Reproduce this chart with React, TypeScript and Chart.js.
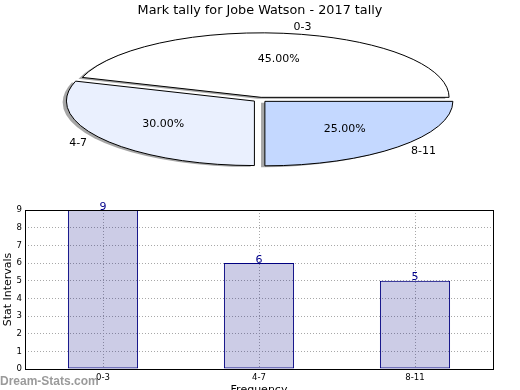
import React, { useEffect, useRef } from 'react';
import { Chart, registerables } from 'chart.js';

Chart.register(...registerables);

// ---- data ----
const TITLE = 'Mark tally for Jobe Watson - 2017 tally';
const categories = ['0-3', '4-7', '8-11'];
const counts = [9, 6, 5];
const pieColors = ['#ffffff', '#eaf0fe', '#c4d8ff'];
// Chart.js draws clockwise; the reference goes counter-clockwise from 3 o'clock
const pieOrder = [0, 2, 1];
const yMax = 9;
const xTitle = 'Frequency';
const yTitle = 'Stat Intervals';
const watermark = 'Dream-Stats.com';

const FONT = "'DejaVu Sans', sans-serif";
const TICK_FONT = "'DejaVu Sans Condensed', 'Liberation Sans Narrow', 'DejaVu Sans', sans-serif";

// ---- pie geometry (visual styling) ----
const PIE_RADIUS = 188;
const SQUASH = 64.5 / 188;
const EXPLODE = 6.9;
const SHADOW_DX = -3.8;
const SHADOW_DY = 1.3;

function wedgePath(ctx: CanvasRenderingContext2D, el: any, sx: number, sy: number) {
  const mid = (el.startAngle + el.endAngle) / 2;
  ctx.save();
  ctx.translate(sx, sy);
  ctx.translate(el.x, el.y);
  ctx.scale(1, SQUASH);
  ctx.translate(-el.x, -el.y);
  ctx.translate(Math.cos(mid) * EXPLODE, Math.sin(mid) * EXPLODE);
  ctx.beginPath();
  ctx.moveTo(el.x, el.y);
  ctx.arc(el.x, el.y, el.outerRadius, el.startAngle, el.endAngle);
  ctx.closePath();
  ctx.restore();
}

const ellipsePiePlugin = {
  id: 'ellipsePie',
  beforeDatasetsDraw(chart: any) {
    const ctx: CanvasRenderingContext2D = chart.ctx;
    const meta = chart.getDatasetMeta(0);
    const els = meta.data as any[];
    // shadows
    els.forEach((el: any) => {
      wedgePath(ctx, el, SHADOW_DX, SHADOW_DY);
      ctx.save();
      ctx.fillStyle = 'rgba(77,77,77,0.5)';
      ctx.fill();
      ctx.restore();
    });
    // fills (drawn by the library's arc elements)
    els.forEach((el: any) => {
      const mid = (el.startAngle + el.endAngle) / 2;
      ctx.save();
      ctx.translate(el.x, el.y);
      ctx.scale(1, SQUASH);
      ctx.translate(-el.x, -el.y);
      ctx.translate(Math.cos(mid) * EXPLODE, Math.sin(mid) * EXPLODE);
      el.draw(ctx);
      ctx.restore();
    });
    // outlines
    els.forEach((el: any) => {
      wedgePath(ctx, el, 0, 0);
      ctx.save();
      ctx.lineWidth = 1;
      ctx.strokeStyle = '#000';
      ctx.lineJoin = 'miter';
      ctx.stroke();
      ctx.restore();
    });
    // labels
    const total = counts.reduce((a, b) => a + b, 0);
    ctx.save();
    ctx.fillStyle = '#000';
    ctx.font = `11px ${FONT}`;
    ctx.textBaseline = 'middle';
    els.forEach((el: any, i: number) => {
      const idx = pieOrder[i];
      const mid = (el.startAngle + el.endAngle) / 2;
      const c = Math.cos(mid);
      const s = Math.sin(mid);
      const cx = el.x + c * EXPLODE;
      const cy = el.y + s * EXPLODE * SQUASH;
      const R = el.outerRadius;
      ctx.textAlign = c > 0 ? 'left' : 'right';
      ctx.fillText(categories[idx], cx + c * 1.1 * R, cy + s * 1.1 * R * SQUASH);
      ctx.textAlign = 'center';
      const pct = ((counts[idx] / total) * 100).toFixed(2) + '%';
      ctx.fillText(pct, cx + c * 0.6 * R, cy + s * 0.6 * R * SQUASH);
    });
    ctx.restore();
    return false;
  },
};

const boxPlugin = {
  id: 'boxAndLabels',
  afterDatasetsDraw(chart: any) {
    const ctx: CanvasRenderingContext2D = chart.ctx;
    const a = chart.chartArea;
    ctx.save();
    ctx.strokeStyle = '#000';
    ctx.lineWidth = 1;
    const l = Math.floor(a.left) + 0.5;
    const t = Math.floor(a.top) + 0.5;
    const r = Math.floor(a.right) + 0.5;
    const b = Math.floor(a.bottom) + 0.5;
    ctx.strokeRect(l, t, r - l, b - t);
    // value labels
    const meta = chart.getDatasetMeta(0);
    ctx.fillStyle = '#00008b';
    ctx.font = `11px ${FONT}`;
    ctx.textAlign = 'center';
    ctx.textBaseline = 'alphabetic';
    meta.data.forEach((el: any, i: number) => {
      ctx.fillText(String(counts[i]), el.x, el.y - 0.5);
    });
    ctx.restore();
  },
  afterDraw(chart: any) {
    const ctx: CanvasRenderingContext2D = chart.ctx;
    ctx.save();
    ctx.font = "bold 12px 'Liberation Sans', Arial, sans-serif";
    ctx.fillStyle = 'rgba(120,120,120,0.75)';
    ctx.textAlign = 'left';
    ctx.textBaseline = 'alphabetic';
    ctx.fillText(watermark, 0, 205);
    ctx.restore();
  },
};

export default function App() {
  const pieRef = useRef<HTMLCanvasElement>(null);
  const barRef = useRef<HTMLCanvasElement>(null);

  useEffect(() => {
    const pie = new Chart(pieRef.current!, {
      type: 'pie',
      data: {
        labels: pieOrder.map((i) => categories[i]),
        datasets: [
          {
            data: pieOrder.map((i) => counts[i]),
            backgroundColor: pieOrder.map((i) => pieColors[i]),
            borderWidth: 0,
            offset: 0,
            hoverOffset: 0,
          },
        ],
      },
      options: {
        responsive: false,
        animation: false,
        radius: PIE_RADIUS,
        rotation: 288,
        layout: { padding: { top: 1, bottom: 0, left: 0, right: 0 } },
        events: [],
        plugins: {
          legend: { display: false },
          tooltip: { enabled: false },
          title: {
            display: true,
            text: TITLE,
            color: '#000',
            font: { family: FONT, size: 12.8, weight: 'normal' },
            padding: { top: 2, bottom: 0 },
          },
        },
      } as any,
      plugins: [ellipsePiePlugin],
    });

    const gridColor = '#a8a8a8';
    const bar = new Chart(barRef.current!, {
      type: 'bar',
      data: {
        labels: categories,
        datasets: [
          {
            data: counts,
            backgroundColor: 'rgba(0,0,128,0.2)',
            borderColor: '#000080',
            borderWidth: 1,
            borderSkipped: false,
            barPercentage: 0.45,
            categoryPercentage: 1,
          },
        ],
      },
      options: {
        responsive: false,
        animation: false,
        events: [],
        layout: { padding: { top: 30, right: 27, left: 0, bottom: 0 } },
        plugins: { legend: { display: false }, tooltip: { enabled: false } },
        scales: {
          x: {
            grid: { offset: false, color: gridColor, drawTicks: false },
            border: { display: false, dash: [1, 2] },
            ticks: { font: { family: TICK_FONT, size: 9.5 }, color: '#000', padding: 3 },
            title: {
              display: true,
              text: xTitle,
              color: '#000',
              font: { family: FONT, size: 11 },
              padding: { top: 0, bottom: 8 },
            },
            afterFit: (s: any) => {
              s.height = 36;
            },
          },
          y: {
            min: 0,
            max: yMax,
            grid: { color: gridColor, drawTicks: false },
            border: { display: false, dash: [1, 2] },
            ticks: { stepSize: 1, font: { family: TICK_FONT, size: 9.5 }, color: '#000', padding: 3 },
            title: {
              display: true,
              text: yTitle,
              color: '#000',
              font: { family: FONT, size: 11 },
              padding: { top: 2, bottom: 0 },
            },
            afterFit: (s: any) => {
              s.width = 25;
            },
          },
        },
      } as any,
      plugins: [boxPlugin],
    });

    return () => {
      pie.destroy();
      bar.destroy();
    };
  }, []);

  return (
    <div
      style={{
        position: 'absolute',
        left: 0,
        top: 0,
        width: 520,
        height: 390,
        overflow: 'hidden',
        background: '#fff',
      }}
    >
      <canvas
        ref={pieRef}
        width={520}
        height={181}
        style={{ position: 'absolute', left: 0, top: 0, width: 520, height: 181 }}
      />
      <canvas
        ref={barRef}
        width={520}
        height={225}
        style={{ position: 'absolute', left: 0, top: 180, width: 520, height: 225 }}
      />
    </div>
  );
}
